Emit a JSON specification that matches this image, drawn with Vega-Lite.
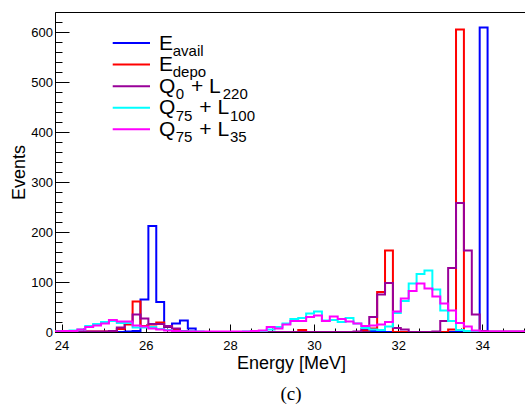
{
  "$schema": "https://vega.github.io/schema/vega-lite/v6.json",
  "width": 472,
  "height": 320,
  "autosize": {"type": "none"},
  "padding": {"left": 55, "top": 12, "right": 0, "bottom": 72},
  "background": "white",
  "config": {
    "font": "Liberation Sans",
    "view": {"stroke": "#000000", "strokeWidth": 1},
    "axis": {
      "grid": false,
      "domainColor": "#000000",
      "domainWidth": 1,
      "tickColor": "#000000",
      "tickWidth": 1,
      "labelColor": "#000000",
      "titleColor": "#000000",
      "labelFont": "Liberation Sans",
      "titleFont": "Liberation Sans",
      "titleFontWeight": "normal",
      "labelFontSize": 13,
      "titleFontSize": 18
    }
  },
  "title": {
    "text": "(c)",
    "orient": "bottom",
    "anchor": "middle",
    "font": "Liberation Serif",
    "fontSize": 19,
    "fontWeight": "normal",
    "color": "#000000",
    "offset": 13
  },
  "datasets": {
    "hist": [
      {"lo": 23.8125, "E_avail": 0, "E_depo": 2, "Q0_L220": 1, "Q75_L100": 1, "Q75_L35": 1},
      {"lo": 24.0, "E_avail": 0, "E_depo": 2, "Q0_L220": 1, "Q75_L100": 2, "Q75_L35": 2},
      {"lo": 24.1875, "E_avail": 0, "E_depo": 1, "Q0_L220": 1, "Q75_L100": 3, "Q75_L35": 2},
      {"lo": 24.375, "E_avail": 0, "E_depo": 1, "Q0_L220": 1, "Q75_L100": 5, "Q75_L35": 5},
      {"lo": 24.5625, "E_avail": 0, "E_depo": 1, "Q0_L220": 1, "Q75_L100": 12, "Q75_L35": 10},
      {"lo": 24.75, "E_avail": 0, "E_depo": 1, "Q0_L220": 1, "Q75_L100": 16, "Q75_L35": 13},
      {"lo": 24.9375, "E_avail": 0, "E_depo": 1, "Q0_L220": 1, "Q75_L100": 20, "Q75_L35": 17},
      {"lo": 25.125, "E_avail": 0, "E_depo": 1, "Q0_L220": 2, "Q75_L100": 22, "Q75_L35": 24},
      {"lo": 25.3125, "E_avail": 0, "E_depo": 6, "Q0_L220": 9, "Q75_L100": 18, "Q75_L35": 21},
      {"lo": 25.5, "E_avail": 1, "E_depo": 15, "Q0_L220": 20, "Q75_L100": 18, "Q75_L35": 21},
      {"lo": 25.6875, "E_avail": 2, "E_depo": 61, "Q0_L220": 35, "Q75_L100": 9, "Q75_L35": 13},
      {"lo": 25.875, "E_avail": 65, "E_depo": 12, "Q0_L220": 27, "Q75_L100": 9, "Q75_L35": 11},
      {"lo": 26.0625, "E_avail": 212, "E_depo": 15, "Q0_L220": 16, "Q75_L100": 10, "Q75_L35": 7},
      {"lo": 26.25, "E_avail": 60, "E_depo": 19, "Q0_L220": 16, "Q75_L100": 6, "Q75_L35": 5},
      {"lo": 26.4375, "E_avail": 10, "E_depo": 11, "Q0_L220": 12, "Q75_L100": 4, "Q75_L35": 3},
      {"lo": 26.625, "E_avail": 17, "E_depo": 6, "Q0_L220": 7, "Q75_L100": 2, "Q75_L35": 2},
      {"lo": 26.8125, "E_avail": 23, "E_depo": 2, "Q0_L220": 2, "Q75_L100": 1, "Q75_L35": 1},
      {"lo": 27.0, "E_avail": 7, "E_depo": 0, "Q0_L220": 1, "Q75_L100": 1, "Q75_L35": 1},
      {"lo": 27.1875, "E_avail": 0, "E_depo": 0, "Q0_L220": 0, "Q75_L100": 1, "Q75_L35": 1},
      {"lo": 27.375, "E_avail": 0, "E_depo": 0, "Q0_L220": 0, "Q75_L100": 0, "Q75_L35": 1},
      {"lo": 27.5625, "E_avail": 0, "E_depo": 0, "Q0_L220": 0, "Q75_L100": 0, "Q75_L35": 1},
      {"lo": 27.75, "E_avail": 0, "E_depo": 0, "Q0_L220": 0, "Q75_L100": 0, "Q75_L35": 1},
      {"lo": 27.9375, "E_avail": 0, "E_depo": 0, "Q0_L220": 0, "Q75_L100": 0, "Q75_L35": 1},
      {"lo": 28.125, "E_avail": 0, "E_depo": 0, "Q0_L220": 0, "Q75_L100": 0, "Q75_L35": 1},
      {"lo": 28.3125, "E_avail": 0, "E_depo": 0, "Q0_L220": 0, "Q75_L100": 1, "Q75_L35": 1},
      {"lo": 28.5, "E_avail": 0, "E_depo": 0, "Q0_L220": 0, "Q75_L100": 1, "Q75_L35": 2},
      {"lo": 28.6875, "E_avail": 0, "E_depo": 0, "Q0_L220": 0, "Q75_L100": 2, "Q75_L35": 3},
      {"lo": 28.875, "E_avail": 0, "E_depo": 0, "Q0_L220": 0, "Q75_L100": 5, "Q75_L35": 10},
      {"lo": 29.0625, "E_avail": 0, "E_depo": 0, "Q0_L220": 0, "Q75_L100": 10, "Q75_L35": 7},
      {"lo": 29.25, "E_avail": 0, "E_depo": 0, "Q0_L220": 0, "Q75_L100": 17, "Q75_L35": 15},
      {"lo": 29.4375, "E_avail": 0, "E_depo": 0, "Q0_L220": 0, "Q75_L100": 26, "Q75_L35": 22},
      {"lo": 29.625, "E_avail": 0, "E_depo": 4, "Q0_L220": 0, "Q75_L100": 28, "Q75_L35": 22},
      {"lo": 29.8125, "E_avail": 0, "E_depo": 0, "Q0_L220": 0, "Q75_L100": 37, "Q75_L35": 30},
      {"lo": 30.0, "E_avail": 0, "E_depo": 0, "Q0_L220": 0, "Q75_L100": 41, "Q75_L35": 33},
      {"lo": 30.1875, "E_avail": 0, "E_depo": 0, "Q0_L220": 0, "Q75_L100": 23, "Q75_L35": 22},
      {"lo": 30.375, "E_avail": 0, "E_depo": 0, "Q0_L220": 0, "Q75_L100": 24, "Q75_L35": 31},
      {"lo": 30.5625, "E_avail": 0, "E_depo": 0, "Q0_L220": 0, "Q75_L100": 20, "Q75_L35": 26},
      {"lo": 30.75, "E_avail": 0, "E_depo": 0, "Q0_L220": 0, "Q75_L100": 28, "Q75_L35": 21},
      {"lo": 30.9375, "E_avail": 0, "E_depo": 0, "Q0_L220": 1, "Q75_L100": 17, "Q75_L35": 17},
      {"lo": 31.125, "E_avail": 1, "E_depo": 3, "Q0_L220": 6, "Q75_L100": 8, "Q75_L35": 12},
      {"lo": 31.3125, "E_avail": 2, "E_depo": 7, "Q0_L220": 30, "Q75_L100": 5, "Q75_L35": 13},
      {"lo": 31.5, "E_avail": 1, "E_depo": 80, "Q0_L220": 75, "Q75_L100": 4, "Q75_L35": 15},
      {"lo": 31.6875, "E_avail": 0, "E_depo": 163, "Q0_L220": 98, "Q75_L100": 11, "Q75_L35": 20},
      {"lo": 31.875, "E_avail": 0, "E_depo": 0, "Q0_L220": 8, "Q75_L100": 38, "Q75_L35": 41},
      {"lo": 32.0625, "E_avail": 0, "E_depo": 0, "Q0_L220": 5, "Q75_L100": 62, "Q75_L35": 67},
      {"lo": 32.25, "E_avail": 0, "E_depo": 0, "Q0_L220": 0, "Q75_L100": 97, "Q75_L35": 82},
      {"lo": 32.4375, "E_avail": 0, "E_depo": 0, "Q0_L220": 0, "Q75_L100": 116, "Q75_L35": 97},
      {"lo": 32.625, "E_avail": 0, "E_depo": 0, "Q0_L220": 0, "Q75_L100": 123, "Q75_L35": 87},
      {"lo": 32.8125, "E_avail": 0, "E_depo": 0, "Q0_L220": 1, "Q75_L100": 85, "Q75_L35": 71},
      {"lo": 33.0, "E_avail": 0, "E_depo": 0, "Q0_L220": 22, "Q75_L100": 43, "Q75_L35": 57},
      {"lo": 33.1875, "E_avail": 0, "E_depo": 5, "Q0_L220": 128, "Q75_L100": 22, "Q75_L35": 43},
      {"lo": 33.375, "E_avail": 0, "E_depo": 605, "Q0_L220": 258, "Q75_L100": 4, "Q75_L35": 18},
      {"lo": 33.5625, "E_avail": 0, "E_depo": 0, "Q0_L220": 163, "Q75_L100": 2, "Q75_L35": 11},
      {"lo": 33.75, "E_avail": 0, "E_depo": 0, "Q0_L220": 35, "Q75_L100": 1, "Q75_L35": 3},
      {"lo": 33.9375, "E_avail": 609, "E_depo": 0, "Q0_L220": 2, "Q75_L100": 0, "Q75_L35": 1},
      {"lo": 34.125, "E_avail": 0, "E_depo": 0, "Q0_L220": 1, "Q75_L100": 0, "Q75_L35": 1},
      {"lo": 34.3125, "E_avail": 0, "E_depo": 0, "Q0_L220": 1, "Q75_L100": 0, "Q75_L35": 1},
      {"lo": 34.5, "E_avail": 0, "E_depo": 0, "Q0_L220": 1, "Q75_L100": 0, "Q75_L35": 1},
      {"lo": 34.6875, "E_avail": 0, "E_depo": 0, "Q0_L220": 1, "Q75_L100": 0, "Q75_L35": 1},
      {"lo": 34.875, "E_avail": 0, "E_depo": 0, "Q0_L220": 1, "Q75_L100": 0, "Q75_L35": 1},
      {"lo": 35.0625, "E_avail": 0, "E_depo": 0, "Q0_L220": 1, "Q75_L100": 0, "Q75_L35": 1},
      {"lo": 35.25, "E_avail": 0, "E_depo": 0, "Q0_L220": 1, "Q75_L100": 0, "Q75_L35": 1}
    ],
    "legend": [
      {"series": "E_avail", "main": "E", "sub": "avail"},
      {"series": "E_depo", "main": "E", "sub": "depo"},
      {"series": "Q0_L220", "main": "Q", "sub": "0", "mid": "+ L", "sub2": "220"},
      {"series": "Q75_L100", "main": "Q", "sub": "75", "mid": "+ L", "sub2": "100"},
      {"series": "Q75_L35", "main": "Q", "sub": "75", "mid": "+ L", "sub2": "35"}
    ]
  },
  "resolve": {
    "scale": {"y": "independent"},
    "axis": {"x": "independent", "y": "independent"}
  },
  "layer": [
    {
      "data": {"name": "hist"},
      "transform": [{"fold": ["E_avail", "E_depo", "Q0_L220"], "as": ["series", "events"]}],
      "mark": {"type": "line", "interpolate": "step-after", "strokeWidth": 2, "clip": true},
      "encoding": {
        "x": {
          "field": "lo",
          "type": "quantitative",
          "scale": {"domain": [23.843, 35.062], "nice": false, "zero": false},
          "axis": {
            "orient": "bottom",
            "values": [24, 26, 28, 30, 32, 34],
            "tickSize": -8,
            "labelPadding": 15,
            "title": "Energy [MeV]",
            "titlePadding": 2
          }
        },
        "y": {
          "field": "events",
          "type": "quantitative",
          "scale": {"domain": [0, 640], "nice": false},
          "axis": {
            "orient": "left",
            "values": [0, 100, 200, 300, 400, 500, 600],
            "tickSize": -14,
            "labelPadding": 16.5,
            "title": "Events",
            "titlePadding": 2
          }
        },
        "color": {
          "field": "series",
          "type": "nominal",
          "scale": {
            "domain": ["E_avail", "E_depo", "Q0_L220", "Q75_L100", "Q75_L35"],
            "range": ["#0000ff", "#ff0000", "#990099", "#00ffff", "#ff00ff"]
          },
          "legend": null
        }
      }
    },
    {
      "data": {"name": "hist"},
      "transform": [{"fold": ["Q75_L100", "Q75_L35"], "as": ["series", "events"]}],
      "mark": {"type": "line", "interpolate": "step-after", "strokeWidth": 2, "clip": true},
      "encoding": {
        "x": {
          "field": "lo",
          "type": "quantitative",
          "scale": {"domain": [23.843, 35.062], "nice": false, "zero": false},
          "axis": {
            "orient": "bottom",
            "values": [24, 24.5, 25, 25.5, 26, 26.5, 27, 27.5, 28, 28.5, 29, 29.5, 30, 30.5, 31, 31.5, 32, 32.5, 33, 33.5, 34, 34.5, 35],
            "tickSize": -4,
            "labels": false,
            "domain": false,
            "title": null
          }
        },
        "y": {
          "field": "events",
          "type": "quantitative",
          "scale": {"domain": [0, 640], "nice": false},
          "axis": {
            "orient": "left",
            "values": [0, 20, 40, 60, 80, 100, 120, 140, 160, 180, 200, 220, 240, 260, 280, 300, 320, 340, 360, 380, 400, 420, 440, 460, 480, 500, 520, 540, 560, 580, 600, 620],
            "tickSize": -7,
            "labels": false,
            "domain": false,
            "title": null
          }
        },
        "color": {"field": "series", "type": "nominal", "legend": null}
      }
    },
    {
      "data": {"name": "legend"},
      "encoding": {
        "y": {
          "field": "series",
          "type": "nominal",
          "scale": {"type": "point", "domain": ["E_avail", "E_depo", "Q0_L220", "Q75_L100", "Q75_L35"], "range": [20.3, 128]},
          "axis": null
        }
      },
      "layer": [
        {
          "mark": {"type": "rule", "strokeWidth": 2},
          "encoding": {
            "x": {"datum": 25.215, "type": "quantitative", "axis": null},
            "x2": {"datum": 26.101},
            "color": {"field": "series", "type": "nominal", "legend": null}
          }
        },
        {
          "mark": {"type": "text", "align": "left", "baseline": "alphabetic", "font": "Liberation Sans", "fontSize": 21, "dy": 6.5, "color": "#000000"},
          "encoding": {
            "x": {"datum": 26.315, "type": "quantitative", "axis": null},
            "text": {"field": "main"}
          }
        },
        {
          "transform": [{"filter": "datum.main === 'E'"}],
          "mark": {"type": "text", "align": "left", "baseline": "alphabetic", "font": "Liberation Sans", "fontSize": 15, "dx": 13.7, "dy": 12.5, "color": "#000000"},
          "encoding": {
            "x": {"datum": 26.315, "type": "quantitative", "axis": null},
            "text": {"field": "sub"}
          }
        },
        {
          "transform": [{"filter": "datum.main === 'Q'"}],
          "mark": {"type": "text", "align": "left", "baseline": "alphabetic", "font": "Liberation Sans", "fontSize": 15, "dx": 16.7, "dy": 13, "color": "#000000"},
          "encoding": {
            "x": {"datum": 26.315, "type": "quantitative", "axis": null},
            "text": {"field": "sub"}
          }
        },
        {
          "transform": [{"filter": "datum.sub === '0'"}],
          "mark": {"type": "text", "align": "left", "baseline": "alphabetic", "font": "Liberation Sans", "fontSize": 21, "dx": 32, "dy": 6.5, "color": "#000000"},
          "encoding": {
            "x": {"datum": 26.315, "type": "quantitative", "axis": null},
            "text": {"field": "mid"}
          }
        },
        {
          "transform": [{"filter": "datum.sub === '75'"}],
          "mark": {"type": "text", "align": "left", "baseline": "alphabetic", "font": "Liberation Sans", "fontSize": 21, "dx": 40.3, "dy": 6.5, "color": "#000000"},
          "encoding": {
            "x": {"datum": 26.315, "type": "quantitative", "axis": null},
            "text": {"field": "mid"}
          }
        },
        {
          "transform": [{"filter": "datum.sub === '0'"}],
          "mark": {"type": "text", "align": "left", "baseline": "alphabetic", "font": "Liberation Sans", "fontSize": 15, "dx": 63.7, "dy": 13, "color": "#000000"},
          "encoding": {
            "x": {"datum": 26.315, "type": "quantitative", "axis": null},
            "text": {"field": "sub2"}
          }
        },
        {
          "transform": [{"filter": "datum.sub === '75'"}],
          "mark": {"type": "text", "align": "left", "baseline": "alphabetic", "font": "Liberation Sans", "fontSize": 15, "dx": 71, "dy": 13, "color": "#000000"},
          "encoding": {
            "x": {"datum": 26.315, "type": "quantitative", "axis": null},
            "text": {"field": "sub2"}
          }
        }
      ]
    }
  ]
}
